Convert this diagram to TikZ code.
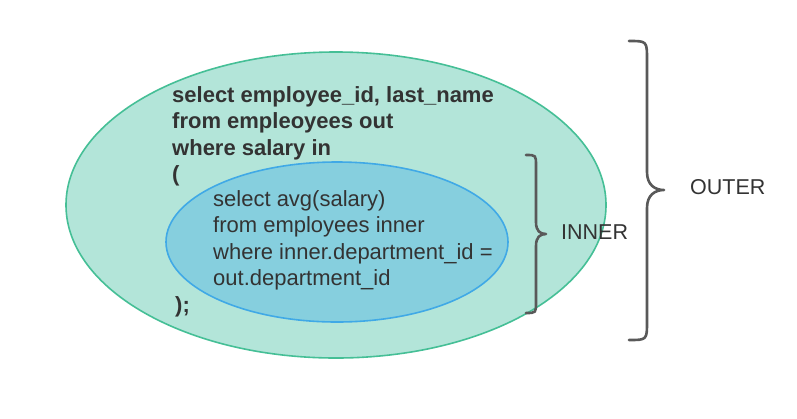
\documentclass[tikz,border=0pt]{standalone}
\usepackage{fontspec}
\setmainfont{Liberation Sans}
\usetikzlibrary{shapes.geometric}
\definecolor{outerfill}{HTML}{B3E5D9}
\definecolor{outerline}{HTML}{45BF96}
\definecolor{innerfill}{HTML}{86CFDE}
\definecolor{innerline}{HTML}{40A9E6}
\definecolor{txt}{HTML}{333333}
\definecolor{brace}{HTML}{595959}
\tikzset{
  blob/.style={ellipse, draw, line width=1.6bp, inner sep=0pt},
  codeb/.style={anchor=base west, inner sep=0pt, text=txt, font=\fontsize{22bp}{26bp}\selectfont\bfseries},
  coder/.style={anchor=base west, inner sep=0pt, text=txt, font=\fontsize{22bp}{26bp}\selectfont},
  lbl/.style={anchor=base west, inner sep=0pt, text=txt, font=\fontsize{21.5bp}{26bp}\selectfont},
  bracepath/.style={draw=brace, line width=2.6bp, line cap=round, line join=round}
}
\begin{document}
\begin{tikzpicture}[x=1bp,y=-1bp]
\useasboundingbox (0,0) rectangle (797,418);
\node[blob, fill=outerfill, draw=outerline, minimum width=540bp, minimum height=306bp] (outer) at (336,205) {};
\node[blob, fill=innerfill, draw=innerline, minimum width=342bp, minimum height=160bp] (inner) at (337,242) {};
% outer code
\node[codeb] (o1) at (172,102) {select employee\_id, last\_name};
\node[codeb] (o2) at (172,128.5) {from empleoyees out};
\node[codeb] (o3) at (172,155) {where salary in};
\node[codeb] (o4) at (172,181) {(};
\node[codeb] (o5) at (175,312) {);};
% inner code
\node[coder] (i1) at (213,206) {select avg(salary)};
\node[coder] (i2) at (213,232.5) {from employees inner};
\node[coder] (i3) at (213,259) {where inner.department\_id =};
\node[coder] (i4) at (213,285.5) {out.department\_id};
% braces
\path[bracepath] (526,155) .. controls (536,155) .. (536,166)
  -- (536,222) .. controls (536,231) and (540,234) .. (546,234)
  .. controls (540,234) and (536,237) .. (536,246)
  -- (536,302) .. controls (536,313) .. (526,313);
\path[bracepath] (629,41) .. controls (647,41) .. (647,60)
  -- (647,172) .. controls (647,185) and (655,190) .. (664,190)
  .. controls (655,190) and (647,195) .. (647,208)
  -- (647,321) .. controls (647,340) .. (629,340);
\node[lbl] (innerlbl) at (561,239) {INNER};
\node[lbl] (outerlbl) at (690,194) {OUTER};
\end{tikzpicture}
\end{document}
